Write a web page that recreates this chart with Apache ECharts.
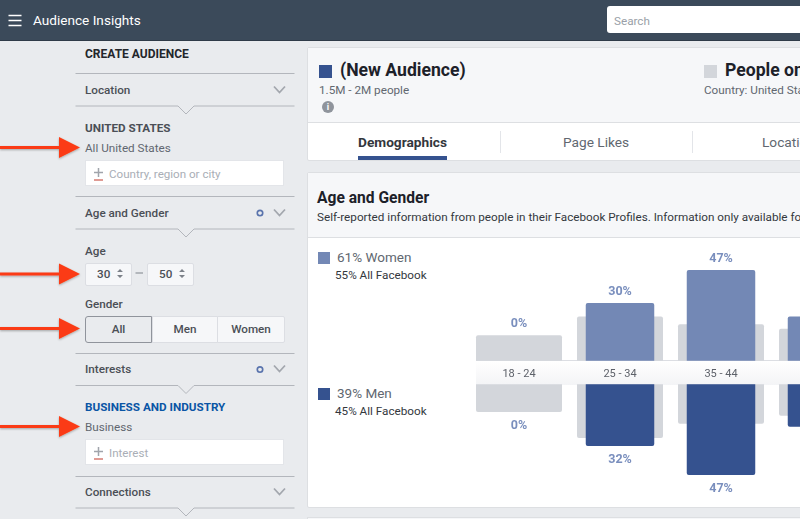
<!DOCTYPE html>
<html>
<head>
<meta charset="utf-8">
<title>Audience Insights</title>
<script src="https://cdn.jsdelivr.net/npm/echarts@6/dist/echarts.min.js"></script>
<style>
html, body { margin: 0; padding: 0; width: 800px; height: 519px; overflow: hidden; background: #e9ebee; font-family: Roboto, sans-serif; }
div, span { box-sizing: border-box; }
.box { position: absolute; }
.t { position: absolute; white-space: nowrap; line-height: 16px; font-size: 11.7px; color: #616770; }
.head { font-weight: 500; color: #4b4f56; }
.caps { font-weight: 700; color: #4b4f56; }
.hint { color: #a9aeb6; font-size: 11.6px; }
.input { position: absolute; left: 85px; width: 199px; height: 26px; background: #fff; border: 1px solid #e3e5e9; }
.sel { position: absolute; top: 263px; height: 23px; background: #f6f7f9; border: 1px solid #dcdee3; border-radius: 2px; }
.btn { position: absolute; top: 316px; height: 27px; background: #f6f7f9; border: 1px solid #dcdee3; text-align: center; line-height: 25px; font-size: 11.7px; font-weight: 500; color: #4b4f56; }
#chart { position: absolute; left: 307px; top: 238px; width: 600px; height: 269px; }
</style>
</head>
<body>
<!-- top bar -->
<div class="box" style="left:0;top:0;width:800px;height:41px;background:#3b4a5a;border-bottom:1px solid #2f3b48"></div>
<div class="t" style="left:33px;top:12px;font-size:13.6px;color:#fff">Audience Insights</div>
<div class="box" style="left:607px;top:6px;width:200px;height:27px;background:#fff;border-radius:3px"></div>
<div class="t" style="left:614px;top:12.5px;color:#9a9fa8">Search</div>

<!-- sidebar text -->
<div class="t" style="left:85px;top:46px;font-size:12px;font-weight:700;color:#23262b">CREATE AUDIENCE</div>
<div class="t head" style="left:85px;top:82px">Location</div>
<div class="t caps" style="left:85px;top:120px">UNITED STATES</div>
<div class="t" style="left:85px;top:140px">All United States</div>
<div class="input" style="top:160px"></div>
<div class="t hint" style="left:109px;top:166px">Country, region or city</div>
<div class="t head" style="left:85px;top:205px">Age and Gender</div>
<div class="t head" style="left:85px;top:243px">Age</div>
<div class="sel" style="left:85px;width:47px"></div>
<div class="sel" style="left:147px;width:47px"></div>
<div class="t head" style="left:97px;top:266px">30</div>
<div class="t head" style="left:159px;top:266px">50</div>
<div class="t head" style="left:85px;top:296px">Gender</div>
<div class="btn" style="left:152px;width:66px">Men</div>
<div class="btn" style="left:217px;width:68px;border-radius:0 2px 2px 0">Women</div>
<div class="btn" style="left:85px;width:67px;background:#e9ebee;border-color:#90949c;border-radius:3px 0 0 3px">All</div>
<div class="t head" style="left:85px;top:361px">Interests</div>
<div class="t" style="left:85px;top:399px;font-weight:700;color:#0a55a5">BUSINESS AND INDUSTRY</div>
<div class="t" style="left:85px;top:419px">Business</div>
<div class="input" style="top:439px"></div>
<div class="t hint" style="left:109px;top:445px">Interest</div>
<div class="t head" style="left:85px;top:484px">Connections</div>

<!-- top summary panel -->
<div class="box" style="left:307px;top:47px;width:500px;height:114px;background:#fff;border:1px solid #dddfe2;border-radius:2px"></div>
<div class="box" style="left:308px;top:48px;width:498px;height:75px;background:#f6f7f9;border-bottom:1px solid #dddfe2"></div>
<div class="box" style="left:319px;top:65px;width:13px;height:13px;background:#35528f"></div>
<div class="t" style="left:340px;top:60px;line-height:21px;font-size:17.6px;font-weight:700;color:#1d2129">(New Audience)</div>
<div class="t" style="left:319px;top:82px">1.5M - 2M people</div>
<div class="box" style="left:322px;top:101px;width:12px;height:12px;border-radius:6px;background:#8f949c;color:#fff;font-size:9px;font-weight:700;line-height:12px;text-align:center">i</div>
<div class="box" style="left:704px;top:65px;width:13px;height:13px;background:#d3d6db"></div>
<div class="t" style="left:725px;top:60px;line-height:21px;font-size:17.6px;font-weight:700;color:#1d2129">People on Facebook</div>
<div class="t" style="left:704px;top:82px">Country: United States</div>
<div class="t" style="left:358px;top:134px;font-size:13.7px;font-weight:700;color:#33373d">Demographics</div>
<div class="box" style="left:358px;top:156px;width:89px;height:4px;background:#35528f"></div>
<div class="box" style="left:500px;top:131px;width:1px;height:22px;background:#e3e5e9"></div>
<div class="t" style="left:563px;top:134px;font-size:13.7px">Page Likes</div>
<div class="box" style="left:692px;top:131px;width:1px;height:22px;background:#e3e5e9"></div>
<div class="t" style="left:762px;top:134px;font-size:13.7px">Location</div>

<!-- age and gender panel -->
<div class="box" style="left:307px;top:172px;width:500px;height:336px;background:#fff;border:1px solid #dddfe2;border-radius:2px"></div>
<div class="box" style="left:308px;top:173px;width:498px;height:65px;background:#f6f7f9;border-bottom:1px solid #dddfe2"></div>
<div class="t" style="left:317px;top:189px;line-height:19px;font-size:15.6px;font-weight:700;color:#1d2129">Age and Gender</div>
<div class="t" style="left:317px;top:209px;color:#33373d">Self-reported information from people in their Facebook Profiles. Information only available for people aged 18 and older.</div>
<div class="box" style="left:307px;top:517px;width:500px;height:4px;background:#f6f7f9;border:1px solid #dddfe2"></div>

<!-- legend -->
<div class="box" style="left:318px;top:252px;width:12px;height:12px;background:#7388b5"></div>
<div class="t" id="womenLabel" style="left:337px;top:249px;font-size:13.5px"></div>
<div class="t" id="womenAll" style="left:335px;top:267px;color:#33373d"></div>
<div class="box" style="left:318px;top:388px;width:12px;height:12px;background:#35528f"></div>
<div class="t" id="menLabel" style="left:337px;top:385px;font-size:13.5px"></div>
<div class="t" id="menAll" style="left:335px;top:403px;color:#33373d"></div>

<!-- white strip behind the age labels -->
<div class="box" style="left:476px;top:360px;width:331px;height:25px;background:linear-gradient(#fff,#f3f4f6);border-top:1px solid #dcdee3"></div>

<div id="chart"></div>

<!-- sidebar lines, icons and the red arrows -->
<svg class="box" style="left:0;top:0;pointer-events:none" width="800" height="519">
  <defs>
    <filter id="sh" x="-10%" y="-30%" width="120%" height="170%"><feDropShadow dx="0" dy="1" stdDeviation="1" flood-color="#000" flood-opacity="0.3"/></filter>
    <polyline id="chev" points="-5.5,-3.5 0,2.5 5.5,-3.5" fill="none" stroke="#a3a7ae" stroke-width="1.8"/>
    <polyline id="notch" points="75.5,0 178,0 186,8 194,0 294.5,0" fill="#e9ebee" stroke="#b3b6bc" stroke-width="1"/>
    <g id="plus"><path d="M98.5,0 v9 M94,4.5 h9" stroke="#a0a4ab" stroke-width="1.5"/><path d="M94,12 h9" stroke="#c0392b" stroke-width="1"/></g>
    <g id="arrow" filter="url(#sh)"><rect x="0" y="-1.5" width="60" height="3" fill="#fb3a12"/><polygon points="59,-10.5 80,0 59,10.5" fill="#fb3a12"/></g>
    <circle id="dot" r="2.7" fill="none" stroke="#5a74ad" stroke-width="1.7"/>
  </defs>
  <path d="M8.5,15.5 h13 M8.5,20.5 h13 M8.5,25.5 h13" stroke="#fff" stroke-width="1.4"/>
  <path d="M75.5,73.5 H294.5 M75.5,196.5 H294.5 M75.5,353.5 H294.5 M75.5,476.5 H294.5" stroke="#b3b6bc"/>
  <use href="#notch" y="106"/><use href="#notch" y="229"/><use href="#notch" y="385.5"/><use href="#notch" y="508"/>
  <use href="#chev" x="279.5" y="90"/><use href="#chev" x="279.5" y="213"/><use href="#chev" x="279.5" y="369"/><use href="#chev" x="279.5" y="492"/>
  <use href="#dot" x="260" y="213"/><use href="#dot" x="260" y="369.5"/>
  <use href="#plus" y="168"/><use href="#plus" y="447"/>
  <path d="M117,272 l3,-3 l3,3 z M117,275 l3,3 l3,-3 z M179,272 l3,-3 l3,3 z M179,275 l3,3 l3,-3 z" fill="#7c8189"/>
  <path d="M135.5,273 h7.5" stroke="#90949c" stroke-width="1.2"/>
  <use href="#arrow" y="147.5"/><use href="#arrow" y="274"/><use href="#arrow" y="328.5"/><use href="#arrow" y="426.5"/>
</svg>

<script>
const ageGroups = ['18 - 24', '25 - 34', '35 - 44', '45 - 54'];
const womenValues = [0, 30, 47, 23];
const menValues = [0, 32, 47, 22];
const facebookWomen = [13.3, 23, 19, 16.6];
const facebookMen = [14.4, 27.8, 20.4, 16.3];
const womenLegend = ['61% Women', '55% All Facebook'];
const menLegend = ['39% Men', '45% All Facebook'];

const womenColor = '#7388b5';
const menColor = '#35528f';
const facebookColor = '#d3d6db';
const labelColor = '#5872ad';

document.getElementById('womenLabel').textContent = womenLegend[0];
document.getElementById('womenAll').textContent = womenLegend[1];
document.getElementById('menLabel').textContent = menLegend[0];
document.getElementById('menAll').textContent = menLegend[1];

// the percent label sits above whichever bar is taller
const labelSpot = (values, facebook) => values.map((v, i) => ({ value: Math.max(v, facebook[i]), shown: v }));

function bar(name, axis, data, width, color, z, radius) {
    return {
        name: name, type: 'bar', xAxisIndex: axis, yAxisIndex: axis < 2 ? 0 : 1,
        data: data, barWidth: width, z: z, silent: true,
        itemStyle: { color: color, borderRadius: radius }
    };
}

function labels(axis, values, facebook, position, distance) {
    return {
        type: 'scatter', xAxisIndex: axis, yAxisIndex: axis < 2 ? 0 : 1, z: 5, silent: true,
        data: labelSpot(values, facebook), symbolSize: 1, itemStyle: { color: 'transparent' },
        label: {
            show: true, position: position, distance: distance, color: labelColor,
            fontFamily: 'Roboto', fontWeight: 700, fontSize: 12.5,
            formatter: (p) => p.data.shown + '%'
        }
    };
}

function xAxis(grid, position, showLabel) {
    return {
        type: 'category', gridIndex: grid, position: position, data: ageGroups,
        axisTick: { show: false },
        axisLine: { show: false },
        axisLabel: { show: showLabel, color: '#5d6169', fontFamily: 'Roboto', fontSize: 11, margin: 8 }
    };
}

function yAxis(grid, inverse) {
    return { type: 'value', gridIndex: grid, min: 0, max: 60, inverse: inverse, show: false };
}

const chart = echarts.init(document.getElementById('chart'));
chart.setOption({
    animation: false,
    grid: [
        { left: 161.5, top: 7, width: 404, height: 115.8 },
        { left: 161.5, top: 146.3, width: 404, height: 115.8 }
    ],
    xAxis: [xAxis(0, 'bottom', true), xAxis(0, 'bottom', false), xAxis(1, 'top', false), xAxis(1, 'top', false)],
    yAxis: [yAxis(0, false), yAxis(1, true)],
    series: [
        bar('Facebook women', 0, facebookWomen, 86, facebookColor, 2, [2, 2, 0, 0]),
        bar('Women', 1, womenValues, 68.5, womenColor, 3, [2, 2, 0, 0]),
        bar('Facebook men', 2, facebookMen, 86, facebookColor, 2, [0, 0, 2, 2]),
        bar('Men', 3, menValues, 68.5, menColor, 3, [0, 0, 2, 2]),
        labels(1, womenValues, facebookWomen, 'top', 4),
        labels(3, menValues, facebookMen, 'bottom', 7)
    ]
});
</script>
</body>
</html>
